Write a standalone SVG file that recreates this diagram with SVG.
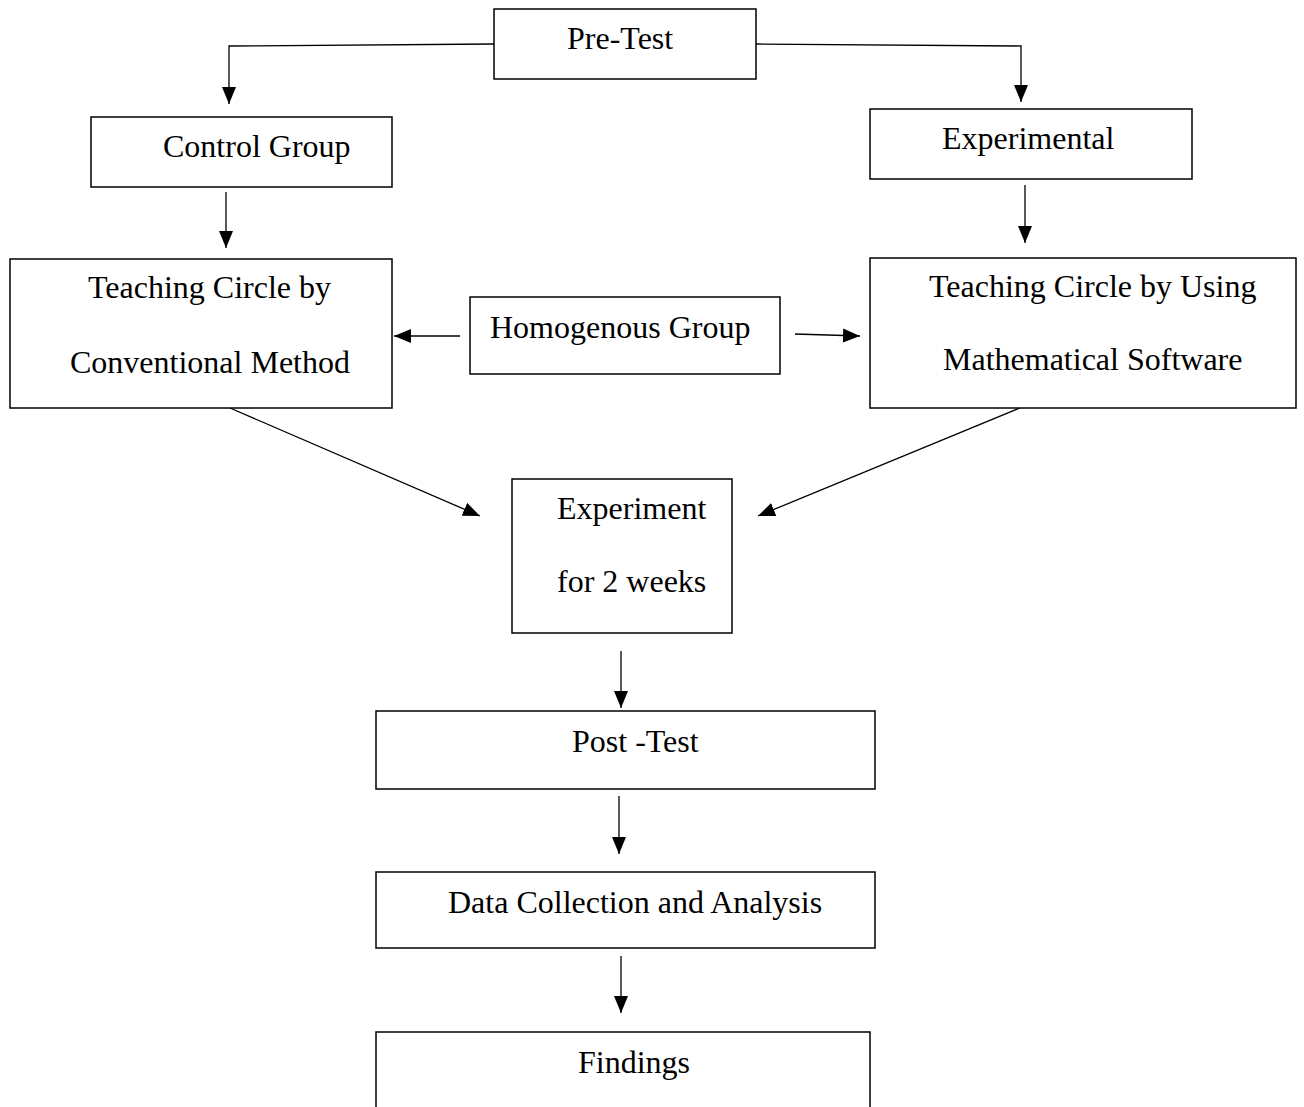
<svg xmlns="http://www.w3.org/2000/svg" width="1304" height="1107" viewBox="0 0 1304 1107">
<style>
.box{fill:#fff;stroke:#000;stroke-width:1.5}
.t{font-family:"Liberation Serif","Times New Roman",Tinos,Times,serif;font-size:32px;fill:#000}
.c{fill:none;stroke:#000;stroke-width:1.3}
</style>
<defs>
<marker id="ah" markerUnits="userSpaceOnUse" markerWidth="18" markerHeight="16" refX="17" refY="7" orient="auto">
<path d="M0,0 L17,7 L0,14 Z" fill="#000"/>
</marker>
</defs>
<rect width="1304" height="1107" fill="#fff"/>
<g id="connectors">
<polyline class="c" points="494,44 229,46 229,104" marker-end="url(#ah)"/>
<polyline class="c" points="756,44 1021,46 1021,102" marker-end="url(#ah)"/>
<line class="c" x1="226" y1="192" x2="226" y2="248" marker-end="url(#ah)"/>
<line class="c" x1="1025" y1="185" x2="1025" y2="243" marker-end="url(#ah)"/>
<line class="c" x1="460" y1="336" x2="394" y2="336" marker-end="url(#ah)"/>
<line class="c" x1="795" y1="334" x2="860" y2="336" marker-end="url(#ah)"/>
<line class="c" x1="230" y1="408" x2="480" y2="516" marker-end="url(#ah)"/>
<line class="c" x1="1020" y1="408" x2="758" y2="516" marker-end="url(#ah)"/>
<line class="c" x1="621" y1="651" x2="621" y2="708" marker-end="url(#ah)"/>
<line class="c" x1="619" y1="796" x2="619" y2="854" marker-end="url(#ah)"/>
<line class="c" x1="621" y1="956" x2="621" y2="1013" marker-end="url(#ah)"/>
</g>
<g id="pretest">
<rect class="box" x="494" y="9" width="262" height="70"/>
<text class="t" x="567" y="49">Pre-Test</text>
</g>
<g id="control">
<rect class="box" x="91" y="117" width="301" height="70"/>
<text class="t" x="163" y="157">Control Group</text>
</g>
<g id="experimental">
<rect class="box" x="870" y="109" width="322" height="70"/>
<text class="t" x="942" y="149">Experimental</text>
</g>
<g id="teach-conv">
<rect class="box" x="10" y="259" width="382" height="149"/>
<text class="t" x="88" y="298">Teaching Circle by</text>
<text class="t" x="70" y="373">Conventional Method</text>
</g>
<g id="homogenous">
<rect class="box" x="470" y="297" width="310" height="77"/>
<text class="t" x="490" y="338">Homogenous Group</text>
</g>
<g id="teach-soft">
<rect class="box" x="870" y="258" width="426" height="150"/>
<text class="t" x="929" y="297">Teaching Circle by Using</text>
<text class="t" x="943" y="370">Mathematical Software</text>
</g>
<g id="experiment">
<rect class="box" x="512" y="479" width="220" height="154"/>
<text class="t" x="557" y="519">Experiment</text>
<text class="t" x="557" y="592">for 2 weeks</text>
</g>
<g id="posttest">
<rect class="box" x="376" y="711" width="499" height="78"/>
<text class="t" x="572" y="752">Post -Test</text>
</g>
<g id="data">
<rect class="box" x="376" y="872" width="499" height="76"/>
<text class="t" x="448" y="913">Data Collection and Analysis</text>
</g>
<g id="findings">
<rect class="box" x="376" y="1032" width="494" height="90"/>
<text class="t" x="578" y="1073">Findings</text>
</g>
</svg>
